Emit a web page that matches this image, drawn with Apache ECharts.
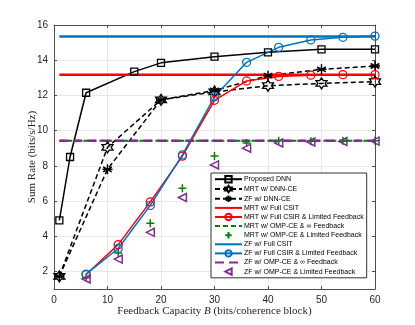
<!DOCTYPE html>
<html>
<head>
<meta charset="utf-8">
<script src="https://cdn.jsdelivr.net/npm/echarts@6/dist/echarts.min.js"></script>
<style>
    html, body { margin: 0; padding: 0; background: #fff; }
    #chart { width: 415px; height: 325px; }
</style>
</head>
<body>
<div id="chart"></div>
<script>
// x values (feedback bits)
var dnnX = [1, 3, 6, 15, 20, 30, 40, 50, 60];
var dnnCeX = [1, 10, 20, 30, 40, 50, 60];
var limitedX = [6, 12, 18, 24, 30, 36, 42, 48, 54, 60];
var flatX = [1, 60];

// sum rates
var proposedDnn = [4.9, 8.5, 12.15, 13.35, 13.85, 14.2, 14.45, 14.62, 14.62];
var mrtDnnCe = [1.72, 9.05, 11.75, 12.2, 12.55, 12.68, 12.78];
var zfDnnCe = [1.72, 7.8, 11.75, 12.28, 13.12, 13.48, 13.67];
var mrtFullCsit = [13.18, 13.18];
var mrtCsirLimited = [1.82, 3.52, 5.95, 8.55, 11.72, 12.82, 13.08, 13.15, 13.18, 13.18];
var mrtOmpInf = [9.43, 9.43];
var mrtOmpLimited = [1.65, 3.05, 4.73, 6.72, 8.56, 9.3, 9.42, 9.4, 9.42, 9.42];
var zfFullCsit = [15.35, 15.35];
var zfCsirLimited = [1.85, 3.3, 5.75, 8.62, 11.92, 13.88, 14.73, 15.15, 15.3, 15.37];
var zfOmpInf = [9.43, 9.43];
var zfOmpLimited = [1.57, 2.7, 4.22, 6.2, 8.05, 9.0, 9.3, 9.35, 9.38, 9.4];

var xTicks = [0, 10, 20, 30, 40, 50, 60];
var yTicks = [2, 4, 6, 8, 10, 12, 14, 16];

var BLUE = '#0072BD';
var RED = '#FF0000';
var GREEN = '#008000';
var PURPLE = '#7E2F8E';
var AXIS_COLOR = '#4d4d4d';

var SYM_HEXAGRAM = 'path://M0,-1L0.289,-0.5L0.866,-0.5L0.577,0L0.866,0.5L0.289,0.5L0,1L-0.289,0.5L-0.866,0.5L-0.577,0L-0.866,-0.5L-0.289,-0.5Z';
var SYM_ASTERISK = 'path://M0,-1L0,1M-0.87,-0.5L0.87,0.5M-0.87,0.5L0.87,-0.5M-1,0L1,0';
var SYM_PLUS = 'path://M0,-1L0,1M-1,0L1,0';
var SYM_TRIANGLE = 'path://M-1,0L1,-1L1,1Z';

function zip(xs, ys) {
    return xs.map(function(x, i) { return [x, ys[i]]; });
}

function makeSeries(name, xs, ys, opts) {
    var hasSymbol = !!opts.symbol;
    return {
        name: name,
        type: 'line',
        data: zip(xs, ys),
        symbol: opts.symbol || 'none',
        symbolSize: opts.size || 7,
        showSymbol: hasSymbol,
        lineStyle: {
            color: opts.color,
            width: opts.width === undefined ? 1.5 : opts.width,
            type: opts.dash || 'solid'
        },
        // line-only series: keep the legend's fallback circle invisible
        itemStyle: hasSymbol ? {
            color: 'rgba(255,255,255,0)',
            borderColor: opts.color,
            borderWidth: opts.symbolWidth || 1.3
        } : {
            color: 'rgba(255,255,255,0)',
            borderColor: 'rgba(255,255,255,0)',
            borderWidth: 0,
            opacity: 0
        },
        emphasis: { disabled: true },
        animation: false
    };
}

function getSeries() {
    return [
        makeSeries('Proposed DNN', dnnX, proposedDnn, {color: '#000', symbol: 'rect', size: 7}),
        makeSeries('MRT w/ DNN-CE', dnnCeX, mrtDnnCe, {color: '#000', dash: [5, 3], symbol: SYM_HEXAGRAM, size: 11}),
        makeSeries('ZF w/ DNN-CE', dnnCeX, zfDnnCe, {color: '#000', dash: [5, 3], symbol: SYM_ASTERISK, size: 10, symbolWidth: 1.5}),
        makeSeries('MRT w/ Full CSIT', flatX, mrtFullCsit, {color: RED, width: 2.5}),
        makeSeries('MRT w/ Full CSIR & Limited Feedback', limitedX, mrtCsirLimited, {color: RED, symbol: 'circle', size: 8}),
        makeSeries('MRT w/ OMP-CE & \u221e Feedback', flatX, mrtOmpInf, {color: GREEN, width: 2, dash: [5, 3]}),
        makeSeries('MRT w/ OMP-CE & Limited Feedback', limitedX, mrtOmpLimited, {color: GREEN, width: 0, symbol: SYM_PLUS, size: 8, symbolWidth: 1.5}),
        makeSeries('ZF w/ Full CSIT', flatX, zfFullCsit, {color: BLUE, width: 2.5}),
        makeSeries('ZF w/ Full CSIR & Limited Feedback', limitedX, zfCsirLimited, {color: BLUE, symbol: 'circle', size: 8}),
        makeSeries('ZF w/ OMP-CE & \u221e Feedback', flatX, zfOmpInf, {color: PURPLE, width: 2.5, dash: [9, 5]}),
        makeSeries('ZF w/ OMP-CE & Limited Feedback', limitedX, zfOmpLimited, {color: PURPLE, width: 0, symbol: SYM_TRIANGLE, size: 8, symbolWidth: 1.5})
    ];
}

function getOption() {
    var tickStyle = { show: true, inside: true, length: 3, lineStyle: { color: AXIS_COLOR } };
    var lineStyle = { show: true, onZero: false, lineStyle: { color: AXIS_COLOR, width: 1 } };
    var labelFont = { color: '#262626', fontSize: 10, fontFamily: 'Liberation Sans' };
    var titleFont = { color: '#262626', fontSize: 11, fontFamily: 'Liberation Serif' };
    return {
        animation: false,
        grid: { left: 54, right: 40, top: 25, bottom: 36 },
        legend: {
            orient: 'vertical',
            left: 211,
            top: 173,
            itemWidth: 27,
            itemHeight: 8,
            itemGap: 1.4,
            padding: [2, 3, 2, 3],
            backgroundColor: '#fff',
            borderColor: '#333',
            borderWidth: 1,
            borderRadius: 0,
            selectedMode: false,
            textStyle: { fontSize: 7, fontFamily: 'Liberation Sans', color: '#000', padding: [0, 0, 0, -3] }
        },
        xAxis: [{
            type: 'value', min: 0, max: 60, interval: 10,
            name: '{t|Feedback Capacity }{i|B}{t| (bits/coherence block)}',
            nameLocation: 'middle', nameGap: 17, nameMoveOverlap: false,
            nameTextStyle: { rich: { t: titleFont, i: Object.assign({fontStyle: 'italic'}, titleFont) } },
            axisLine: lineStyle, axisTick: tickStyle,
            axisLabel: Object.assign({ margin: 6, customValues: xTicks }, labelFont),
            splitLine: { show: true, lineStyle: { color: '#e8e8e8', width: 1 } }
        }, {
            type: 'value', position: 'top', min: 0, max: 60, interval: 10,
            axisLine: lineStyle, axisTick: tickStyle, axisLabel: { show: false }, splitLine: { show: false }
        }],
        yAxis: [{
            type: 'value', min: 1, max: 16, interval: 1,
            name: 'Sum Rate (bits/s/Hz)', nameLocation: 'middle', nameGap: 16, nameMoveOverlap: false,
            nameTextStyle: titleFont,
            axisLine: lineStyle,
            axisTick: Object.assign({ customValues: yTicks }, tickStyle),
            axisLabel: Object.assign({ margin: 6, customValues: yTicks }, labelFont),
            splitLine: { show: true, lineStyle: { color: '#e8e8e8', width: 1 } }
        }, {
            type: 'value', position: 'right', min: 1, max: 16, interval: 1,
            axisLine: lineStyle,
            axisTick: Object.assign({ customValues: yTicks }, tickStyle),
            axisLabel: { show: false }, splitLine: { show: false }
        }],
        series: getSeries()
    };
}

var chart = echarts.init(document.getElementById('chart'), null, { renderer: 'canvas' });
chart.setOption(getOption());
</script>
</body>
</html>
